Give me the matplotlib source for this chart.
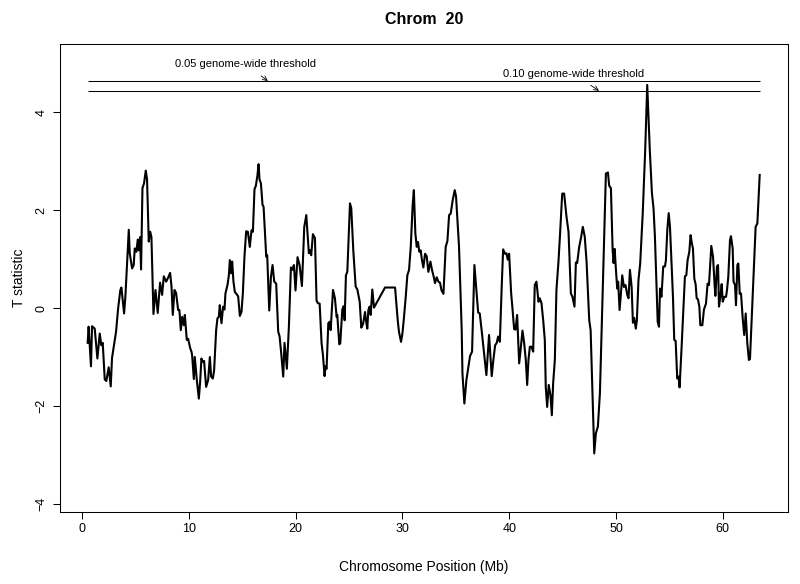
import numpy as np
import matplotlib
matplotlib.use("Agg")
import matplotlib.pyplot as plt

plt.rcParams['font.family'] = ['Liberation Sans', 'DejaVu Sans']

# T statistic along chromosome 20 (position in Mb)
pos_mb = [
    0.53, 0.62, 0.84, 0.94, 1.19, 1.44, 1.66, 1.81, 1.94, 2.13, 2.28, 2.50, 2.69, 2.81,
    3.19, 3.38, 3.59, 3.69, 3.94, 4.06, 4.38, 4.47, 4.69, 4.84, 4.94, 5.09, 5.22, 5.31,
    5.44, 5.53, 5.66, 5.81, 5.97, 6.09, 6.25, 6.38, 6.50, 6.69, 6.88, 7.09, 7.31, 7.50,
    7.66, 7.88, 8.06, 8.25, 8.38, 8.50, 8.66, 8.81, 9.00, 9.12, 9.25, 9.38, 9.53, 9.63,
    9.81, 9.94, 10.13, 10.25, 10.31, 10.47, 10.56, 10.75, 10.94, 11.06, 11.18, 11.31,
    11.43, 11.62, 11.81, 11.97, 12.09, 12.25, 12.37, 12.56, 12.68, 12.81, 12.90, 13.06,
    13.21, 13.34, 13.43, 13.62, 13.75, 13.84, 13.97, 14.06, 14.18, 14.31, 14.46, 14.62,
    14.78, 14.93, 15.06, 15.21, 15.37, 15.53, 15.71, 15.87, 16.00, 16.15, 16.28, 16.43,
    16.53, 16.62, 16.75, 16.90, 17.00, 17.25, 17.34, 17.53, 17.69, 17.84, 18.00, 18.18,
    18.37, 18.50, 18.65, 18.84, 18.96, 19.18, 19.37, 19.56, 19.68, 19.84, 19.99, 20.18,
    20.37, 20.59, 20.81, 21.00, 21.24, 21.37, 21.46, 21.62, 21.81, 21.96, 22.09, 22.25,
    22.43, 22.56, 22.71, 22.80, 22.90, 23.06, 23.18, 23.28, 23.50, 23.68, 23.84, 23.90,
    24.09, 24.18, 24.37, 24.50, 24.59, 24.71, 24.84, 25.09, 25.21, 25.40, 25.62, 25.78,
    26.00, 26.15, 26.31, 26.50, 26.59, 26.71, 26.81, 26.93, 27.03, 27.18, 27.34, 28.37,
    29.31, 29.56, 29.68, 29.87, 30.00, 30.15, 30.31, 30.46, 30.62, 30.78, 30.96, 31.07,
    31.21, 31.34, 31.46, 31.58, 31.71, 31.83, 31.96, 32.12, 32.27, 32.43, 32.62, 32.77,
    32.93, 33.05, 33.21, 33.37, 33.52, 33.65, 33.84, 34.05, 34.21, 34.37, 34.52, 34.71,
    34.90, 35.02, 35.30, 35.55, 35.62, 35.80, 35.99, 36.18, 36.33, 36.52, 36.74, 36.92,
    37.09, 37.24, 37.43, 37.61, 37.86, 38.11, 38.36, 38.52, 38.68, 38.83, 38.96, 39.12,
    39.30, 39.43, 39.61, 39.74, 39.86, 39.99, 40.18, 40.30, 40.46, 40.59, 40.74, 40.93,
    41.08, 41.24, 41.40, 41.55, 41.68, 41.80, 41.93, 42.08, 42.24, 42.39, 42.55, 42.74,
    42.86, 43.02, 43.18, 43.33, 43.42, 43.55, 43.70, 43.86, 43.99, 44.11, 44.27, 44.42,
    44.61, 44.77, 44.96, 45.14, 45.36, 45.55, 45.77, 45.92, 46.11, 46.24, 46.36, 46.55,
    46.74, 46.89, 47.07, 47.24, 47.49, 47.62, 47.80, 47.96, 48.11, 48.30, 48.49, 48.68,
    48.83, 49.05, 49.24, 49.36, 49.52, 49.68, 49.77, 49.87, 49.99, 50.11, 50.20, 50.33,
    50.46, 50.58, 50.74, 50.89, 51.05, 51.17, 51.30, 51.46, 51.58, 51.70, 51.85, 51.95,
    52.10, 52.26, 52.50, 52.73, 52.92, 53.16, 53.36, 53.51, 53.64, 53.80, 53.90, 54.02,
    54.12, 54.25, 54.42, 54.58, 54.67, 54.80, 54.93, 55.05, 55.21, 55.33, 55.45, 55.58,
    55.73, 55.86, 55.95, 56.14, 56.30, 56.45, 56.58, 56.70, 56.86, 56.98, 57.11, 57.20,
    57.33, 57.45, 57.55, 57.67, 57.80, 57.89, 58.08, 58.23, 58.42, 58.57, 58.70, 58.92,
    59.08, 59.23, 59.30, 59.45, 59.55, 59.64, 59.80, 59.89, 59.99, 60.14, 60.30, 60.39,
    60.51, 60.67, 60.76, 60.92, 61.00, 61.14, 61.23, 61.36, 61.45, 61.58, 61.70, 61.86,
    62.00, 62.14, 62.29, 62.44, 62.54, 62.76, 62.91, 63.07, 63.23, 63.45,
]
t_stat = [
    -0.71, -0.38, -1.19, -0.37, -0.42, -1.03, -0.52, -0.76, -0.71, -1.46, -1.49, -1.21, -1.60, -1.02,
    -0.48, -0.01, 0.37, 0.42, -0.11, 0.23, 1.60, 1.12, 0.81, 0.88, 1.22, 1.15, 1.40, 1.18,
    1.45, 0.79, 2.45, 2.55, 2.81, 2.63, 1.36, 1.56, 1.45, -0.12, 0.37, -0.10, 0.52, 0.27,
    0.65, 0.54, 0.62, 0.72, 0.44, -0.14, 0.37, 0.31, -0.04, -0.04, -0.45, -0.18, -0.35, -0.14,
    -0.65, -0.63, -0.82, -0.89, -0.96, -1.45, -1.00, -1.47, -1.85, -1.51, -1.03, -1.10,
    -1.08, -1.61, -1.47, -1.00, -1.40, -1.44, -1.27, -0.45, -0.21, -0.18, 0.06, -0.31,
    0.03, -0.03, 0.30, 0.47, 0.67, 0.98, 0.71, 0.95, 0.54, 0.33, 0.29, 0.24,
    -0.16, -0.08, 0.30, 1.05, 1.57, 1.56, 1.25, 1.59, 1.56, 2.43, 2.50, 2.72,
    2.94, 2.63, 2.55, 2.11, 2.07, 1.05, 1.08, -0.05, 0.64, 0.88, 0.54, 0.50,
    -0.48, -0.58, -0.92, -1.40, -0.71, -1.24, -0.38, 0.83, 0.78, 0.88, 0.36, 1.04,
    0.88, 0.45, 1.66, 1.90, 1.12, 1.18, 1.08, 1.51, 1.43, 0.15, 0.10, 0.09,
    -0.72, -0.96, -1.39, -1.19, -1.24, -0.31, -0.28, -0.45, 0.37, 0.20, -0.18, -0.14,
    -0.74, -0.72, -0.03, 0.04, -0.25, 0.67, 0.74, 2.14, 2.04, 1.18, 0.44, 0.38,
    0.13, -0.40, -0.33, -0.08, -0.25, -0.42, -0.04, 0.03, -0.14, 0.38, 0.01, 0.42,
    0.42, -0.25, -0.49, -0.69, -0.52, -0.18, 0.23, 0.67, 0.78, 1.25, 2.11, 2.41,
    1.53, 1.25, 1.35, 1.15, 1.18, 0.98, 0.83, 1.11, 1.06, 0.74, 0.95, 0.78,
    0.64, 0.51, 0.63, 0.54, 0.52, 0.37, 0.29, 1.25, 1.37, 1.90, 1.93, 2.21,
    2.41, 2.28, 1.25, -0.45, -1.34, -1.95, -1.47, -1.20, -0.98, -0.89, 0.88, 0.37,
    -0.09, -0.11, -0.48, -0.86, -1.37, -0.55, -1.39, -1.05, -0.76, -0.71, -0.58, -0.69,
    0.47, 1.20, 1.11, 1.12, 0.99, 1.11, 0.30, 0.00, -0.43, -0.44, -0.14, -1.13,
    -0.82, -0.46, -0.72, -1.06, -1.57, -1.06, -0.79, -0.79, -0.89, 0.47, 0.54, 0.13,
    0.20, 0.10, -0.25, -0.65, -1.61, -2.02, -1.57, -1.78, -2.19, -1.54, -1.06, 0.37,
    0.95, 1.56, 2.34, 2.34, 1.87, 1.56, 0.30, 0.23, 0.03, 0.93, 0.92, 1.25,
    1.46, 1.66, 1.46, 0.95, -0.25, -0.45, -1.81, -2.97, -2.56, -2.42, -1.74, -0.25,
    0.98, 2.75, 2.77, 2.50, 2.45, 1.19, 0.92, 1.21, 0.78, 0.40, 0.54, -0.04,
    0.30, 0.67, 0.43, 0.47, 0.27, 0.20, 0.78, 0.43, -0.30, -0.20, -0.42, -0.25,
    0.57, 0.91, 1.94, 3.23, 4.56, 3.23, 2.35, 2.04, 1.46, 0.37, -0.28, -0.38,
    0.40, 0.23, 0.85, 0.85, 0.98, 1.60, 1.94, 1.66, 0.85, 0.23, -0.65, -0.67,
    -1.44, -1.40, -1.62, -0.79, -0.04, 0.65, 0.67, 0.98, 1.15, 1.49, 1.31, 1.22,
    0.60, 0.49, 0.20, 0.18, 0.03, -0.35, -0.35, -0.03, 0.09, 0.50, 0.47, 1.27,
    1.05, 0.47, 0.25, 0.85, 0.88, 0.03, 0.29, 0.49, 0.13, 0.23, 0.23, 0.37,
    0.64, 1.39, 1.47, 1.22, 0.54, 0.47, 0.06, 0.88, 0.91, 0.29, 0.30, -0.21,
    -0.55, -0.11, -0.72, -1.06, -1.04, 0.10, 0.85, 1.66, 1.73, 2.72,
]

thr_05 = 4.64
thr_10 = 4.44
chrom = 20

fig = plt.figure(figsize=(8.0, 5.84), dpi=100)
# box: x 60..788 px, y 44..512 px
ax = fig.add_axes([0.075, 0.123, 0.91, 0.802])

ax.plot(pos_mb, t_stat, color='black', lw=1.5)
ax.hlines([thr_05, thr_10], pos_mb[0], pos_mb[-1], color='black', lw=0.75)

ax.annotate("0.05 genome-wide threshold", xy=(17.4, thr_05), xytext=(15.3, 4.99),
            ha='center', va='center', fontsize=8,
            arrowprops=dict(arrowstyle='->', lw=0.6, color='black', shrinkA=5, shrinkB=0))
ax.annotate("0.10 genome-wide threshold", xy=(48.4, thr_10), xytext=(46.0, 4.79),
            ha='center', va='center', fontsize=8,
            arrowprops=dict(arrowstyle='->', lw=0.6, color='black', shrinkA=5, shrinkB=0))

ax.set_xlim(-2.06, 66.1)
ax.set_ylim(-4.17, 5.4)
ax.set_xticks([0, 10, 20, 30, 40, 50, 60])
ax.set_yticks([-4, -2, 0, 2, 4])
ax.tick_params(direction='out', length=5, width=0.75, labelsize=9)
ax.tick_params(axis='x', pad=3)
ax.tick_params(axis='y', pad=4)
for lab in ax.get_yticklabels():
    lab.set_rotation(90)
    lab.set_va('center')
for s in ax.spines.values():
    s.set_linewidth(0.75)

ax.set_xlabel("Chromosome Position (Mb)", fontsize=10, labelpad=18)
ax.set_ylabel("T statistic", fontsize=10, labelpad=7)
ax.set_title(f"Chrom  {chrom}", fontsize=11.5, fontweight='bold', pad=14)

fig.savefig("out.png", dpi=100)
